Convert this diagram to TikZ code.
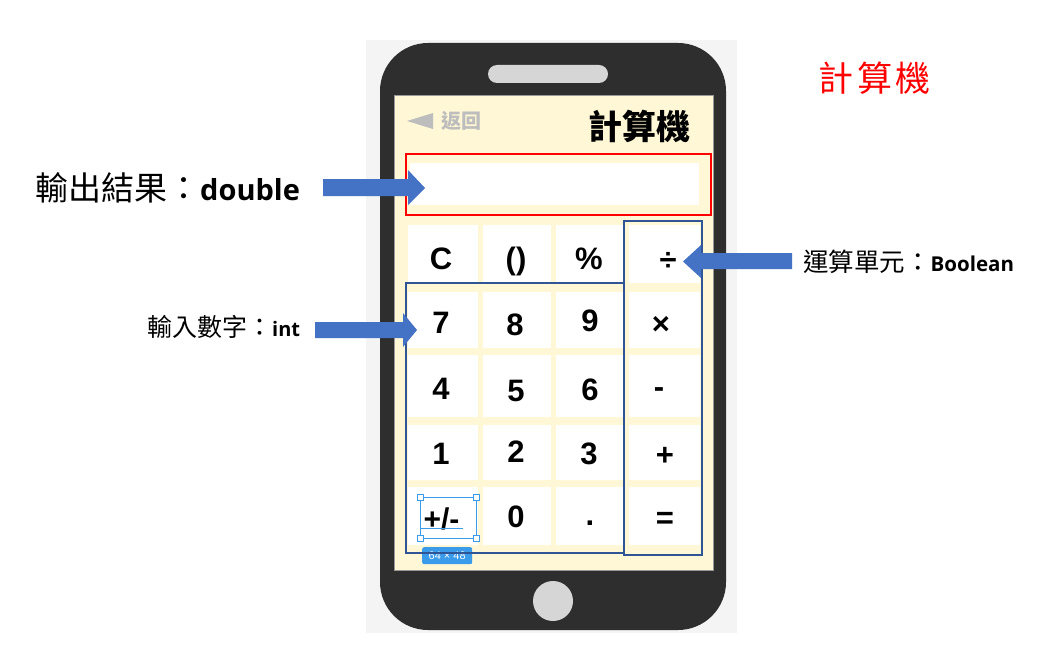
\documentclass[tikz,border=0pt]{standalone}
\usepackage{fontspec}
\setmainfont{Liberation Sans}
\newfontfamily\cjk{Noto Sans CJK TC}
\newfontfamily\opensans{Open Sans}
\definecolor{phonebody}{HTML}{2E2E2E}
\definecolor{panel}{HTML}{F4F4F4}
\definecolor{screencream}{HTML}{FFF7D5}
\definecolor{softgray}{HTML}{D6D6D6}
\definecolor{boxblue}{HTML}{2F5597}
\definecolor{arrowblue}{HTML}{4472C4}
\definecolor{selblue}{HTML}{3A9BEA}
\definecolor{backgray}{HTML}{BDBDBD}
\tikzset{
  cell/.style={fill=white, draw=none, inner sep=0pt},
  keytxt/.style={inner sep=0pt, text height=22.2pt, text depth=0pt,
                 font=\bfseries\fontsize{31}{31}\selectfont},
  groupbox/.style={draw=boxblue, line width=2.3pt},
  blockarrow/.style={fill=arrowblue, draw=none},
  handle/.style={draw=selblue, fill=white, line width=0.8pt, minimum size=6pt, inner sep=0pt},
  note/.style={inner sep=0pt, anchor=west}
}
\begin{document}
\begin{tikzpicture}[x=1pt,y=-1pt]
\useasboundingbox (0,0) rectangle (1054,650);
\fill[white] (0,0) rectangle (1054,650);

% backdrop and phone body
\fill[panel] (366,40) rectangle (737,633);
\fill[phonebody, rounded corners=48pt] (380,43) rectangle (726,630);
\fill[softgray, rounded corners=9pt] (488,65) rectangle (608,83);
\node[circle, fill=softgray, minimum size=40pt, inner sep=0pt] (home) at (553,601) {};

% screen
\node[fill=screencream, draw=black!40, line width=0.5pt, inner sep=0pt, anchor=north west,
      minimum width=319pt, minimum height=475pt] (screen) at (393.5,95) {};

% header
\fill[backgray] (407,121) -- (433,113) -- (433,129) -- cycle;
\node[note, text=backgray, font=\cjk\bfseries\fontsize{20}{20}\selectfont] (back) at (441,121) {返回};
\node[inner sep=0pt, font=\cjk\bfseries\fontsize{34}{34}\selectfont] (title) at (639,126) {計算機};

% display
\node[fill=white, inner sep=0pt, anchor=north west, minimum width=289pt, minimum height=42pt] (display) at (410,163) {};
\node[draw=red, line width=2pt, inner sep=0pt, anchor=north west, minimum width=305pt, minimum height=61pt] (outbox) at (405,153) {};

% keypad cells: name / centre x / centre y / width / height
\foreach \n/\x/\y/\w/\h in {
  cC/443/254/70/58, cP/517/254/68/58, cPc/589.5/254/67/58, cDiv/664.5/254/71/58,
  c7/443/320/70/56, c8/517/320/68/56, c9/589.5/320/67/56, cMul/664.5/320/71/56,
  c4/443/386/70/62, c5/517/386/68/62, c6/589.5/386/67/62, cSub/664.5/386/71/62,
  c1/443/452.5/70/55, c2/517/452.5/68/55, c3/589.5/452.5/67/55, cAdd/664.5/452.5/71/55,
  cSign/443/516/70/58, c0/517/516/68/58, cDot/589.5/516/67/58, cEq/664.5/516/71/58}
  \node[cell, minimum width=\w pt, minimum height=\h pt] (\n) at (\x,\y) {};

% key captions
\node[keytxt] (kC)   at (441,258.5) {C};
\node[keytxt] (kP)   at (516,258)   {()};
\node[keytxt] (kPc)  at (589,258)   {\%};
\node[keytxt] (kDiv) at (668,259)   {÷};
\node[keytxt] (k7)   at (441,322)   {7};
\node[keytxt] (k8)   at (515,324)   {8};
\node[keytxt] (k9)   at (590,320)   {9};
\node[keytxt] (kMul) at (661,323)   {×};
\node[keytxt] (k4)   at (441,388)   {4};
\node[keytxt] (k5)   at (516,390)   {5};
\node[keytxt] (k6)   at (590,389)   {6};
\node[keytxt] (kSub) at (659,386)   {-};
\node[keytxt] (k1)   at (441,453)   {1};
\node[keytxt] (k2)   at (516,451)   {2};
\node[keytxt] (k3)   at (589,453)   {3};
\node[keytxt] (kAdd) at (665,454)   {+};
\node[keytxt, font=\bfseries\fontsize{30}{30}\selectfont] (kSign) at (441.5,518) {+/-};
\node[keytxt] (k0)   at (516,516)   {0};
\node[keytxt] (kDot) at (590,514)   {.};
\node[keytxt] (kEq)  at (665,517)   {=};

% selection frame around the sign key
\node[draw=selblue, line width=0.8pt, inner sep=0pt, anchor=north west,
      minimum width=56pt, minimum height=41pt] (sel) at (420,497) {};
\draw[selblue, line width=0.8pt] (421,528) -- (463,528);
\foreach \c in {north west, north east, south west, south east}
  \node[handle] at (sel.\c) {};
\node[fill=selblue, rounded corners=2pt, inner sep=0pt, anchor=north west,
      minimum width=50pt, minimum height=17pt, text=white, text height=8pt, text depth=0pt,
      font=\fontsize{11}{11}\selectfont] (size) at (422,547) {64 × 48};

% group outlines
\draw[groupbox] (406,283) rectangle (624,553);
\draw[groupbox] (624,221) rectangle (702,555);

% annotations
\node[note] (outlbl) at (35,188) {\cjk\fontsize{33}{33}\selectfont 輸出結果：\opensans\bfseries\fontsize{29}{29}\selectfont double};
\node[note] (inlbl) at (147,327) {\cjk\fontsize{25}{25}\selectfont 輸入數字：\opensans\bfseries\fontsize{20}{20}\selectfont int};
\node[note] (oplbl) at (803,262) {\cjk\fontsize{25.5}{25.5}\selectfont 運算單元：\opensans\bfseries\fontsize{20.5}{20.5}\selectfont Boolean};
\node[inner sep=0pt, text=red, font=\cjk\fontsize{35}{35}\selectfont] (apptitle) at (874.5,78) {計\hspace{4pt}算\hspace{4pt}機};

% block arrows
\coordinate (outtip) at (425,188);
\coordinate (intip) at (417,330);
\coordinate (optip) at (683,261.5);
\fill[blockarrow] (323,179) -- (408,179) -- (408,170) -- (outtip) -- (408,205) -- (408,196) -- (323,196) -- cycle;
\fill[blockarrow] (315,322) -- (403,322) -- (403,313) -- (intip) -- (403,347) -- (403,338) -- (315,338) -- cycle;
\fill[blockarrow] (792,253) -- (701,253) -- (701,245) -- (optip) -- (701,278) -- (701,269) -- (792,269) -- cycle;
\end{tikzpicture}
\end{document}
